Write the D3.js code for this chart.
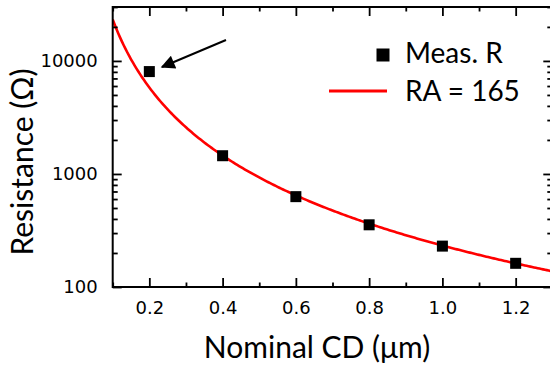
<!DOCTYPE html>
<html>
<head>
<meta charset="utf-8">
<script src="https://cdn.jsdelivr.net/npm/d3@7"></script>
<style>
  html, body { margin: 0; padding: 0; background: #fff; }
  svg { display: block; }
</style>
</head>
<body>
<svg id="chart" width="550" height="366"></svg>
<script>
// Measured junction resistance vs. nominal critical dimension
const cdNominal = [0.2, 0.4, 0.6, 0.8, 1.0, 1.2];          // µm
const measuredR = [8050, 1450, 630, 355, 230, 162];        // Ω
const xTickValues = [0.2, 0.4, 0.6, 0.8, 1.0, 1.2];
const yTickValues = [100, 1000, 10000];
const raValue = 165;                                        // Ω·µm²
const cdBias = 0.95;                                        // effective / nominal CD

const svg = d3.select("#chart");
const plotL = 112.7, plotR = 552.3, plotT = 7, plotB = 287;

const x = d3.scaleLinear().domain([0.1, 1.3]).range([plotL, plotR]);
const y = d3.scaleLog().domain([100, 30000]).range([plotB, plotT]);

const titleFont = "Lato, 'Open Sans', sans-serif";
const tickFont = "'DejaVu Sans', sans-serif";

const defs = svg.append("defs");

// Clip region for the fit curve
defs.append("clipPath").attr("id", "plotClip")
  .append("rect").attr("x", plotL).attr("y", plotT)
  .attr("width", plotR - plotL).attr("height", plotB - plotT);

// Fit curve: R = RA / area, area of a circular pillar with effective CD
const fitCD = d3.range(0.1, 1.3001, 0.005);
const fitR = cd => raValue / (Math.PI / 4 * Math.pow(cd * cdBias, 2));
svg.append("path")
  .datum(fitCD)
  .attr("clip-path", "url(#plotClip)")
  .attr("fill", "none")
  .attr("stroke", "#ff0000")
  .attr("stroke-width", 2.6)
  .attr("d", d3.line().x(d => x(d)).y(d => y(fitR(d))));

// Minor tick positions
const xMinor = d3.range(0.1, 1.31, 0.1).filter(v => !xTickValues.some(t => Math.abs(t - v) < 1e-6));
const yMinor = [];
[100, 1000, 10000].forEach(dec => { for (let k = 2; k <= 9; k++) if (dec * k <= 30000) yMinor.push(dec * k); });

// Axes with inward ticks on all four sides
const axisStyle = g => {
  g.select(".domain").remove();
  g.selectAll("line").attr("stroke", "#000").attr("stroke-width", 1.8);
};

// Bottom
svg.append("g").attr("transform", `translate(0,${plotB})`)
  .call(d3.axisBottom(x).tickValues(xTickValues).tickSize(-9).tickPadding(14)
    .tickFormat(d3.format(".1f")))
  .call(axisStyle)
  .call(g => g.selectAll("text").attr("font-family", tickFont).attr("font-size", 18).attr("fill", "#000"));
svg.append("g").attr("transform", `translate(0,${plotB})`)
  .call(d3.axisBottom(x).tickValues(xMinor).tickSize(-4.5).tickFormat(""))
  .call(axisStyle);
// Top
svg.append("g").attr("transform", `translate(0,${plotT})`)
  .call(d3.axisTop(x).tickValues(xTickValues).tickSize(-9).tickFormat(""))
  .call(axisStyle);
svg.append("g").attr("transform", `translate(0,${plotT})`)
  .call(d3.axisTop(x).tickValues(xMinor).tickSize(-4.5).tickFormat(""))
  .call(axisStyle);
// Left
svg.append("g").attr("transform", `translate(${plotL},0)`)
  .call(d3.axisLeft(y).tickValues(yTickValues).tickSize(-9).tickPadding(15)
    .tickFormat(d3.format("d")))
  .call(axisStyle)
  .call(g => g.selectAll("text").attr("font-family", tickFont).attr("font-size", 18).attr("fill", "#000"));
svg.append("g").attr("transform", `translate(${plotL},0)`)
  .call(d3.axisLeft(y).tickValues(yMinor).tickSize(-5).tickFormat(""))
  .call(axisStyle);
// Right
svg.append("g").attr("transform", `translate(${plotR},0)`)
  .call(d3.axisRight(y).tickValues(yTickValues).tickSize(-9).tickFormat(""))
  .call(axisStyle);
svg.append("g").attr("transform", `translate(${plotR},0)`)
  .call(d3.axisRight(y).tickValues(yMinor).tickSize(-5).tickFormat(""))
  .call(axisStyle);

// Frame
svg.append("rect")
  .attr("x", plotL).attr("y", plotT)
  .attr("width", plotR - plotL).attr("height", plotB - plotT)
  .attr("fill", "none").attr("stroke", "#000").attr("stroke-width", 2);

// Measured points
const sq = 11;
svg.append("g").selectAll("rect")
  .data(cdNominal.map((c, i) => ({ c, r: measuredR[i] })))
  .join("rect")
  .attr("x", d => x(d.c) - sq / 2)
  .attr("y", d => y(d.r) - sq / 2)
  .attr("width", sq).attr("height", sq)
  .attr("fill", "#000");

// Arrow pointing at the smallest device
defs.append("marker")
  .attr("id", "arrowHead")
  .attr("viewBox", "0 0 10 10").attr("refX", 9).attr("refY", 5)
  .attr("markerWidth", 8).attr("markerHeight", 7)
  .attr("markerUnits", "strokeWidth")
  .attr("orient", "auto")
  .append("path").attr("d", "M0,0 L10,5 L0,10 z").attr("fill", "#000");
svg.append("line")
  .attr("x1", 226).attr("y1", 40).attr("x2", 162).attr("y2", 67)
  .attr("stroke", "#000").attr("stroke-width", 2)
  .attr("marker-end", "url(#arrowHead)");

// Legend
const legend = svg.append("g");
legend.append("rect").attr("x", 376.5).attr("y", 48.5).attr("width", 13).attr("height", 13).attr("fill", "#000");
legend.append("text").attr("x", 405).attr("y", 62.5).text("Meas. R")
  .attr("font-family", titleFont).attr("font-size", 28).attr("fill", "#000");
legend.append("line").attr("x1", 329).attr("x2", 387).attr("y1", 91).attr("y2", 91)
  .attr("stroke", "#ff0000").attr("stroke-width", 3);
legend.append("text").attr("x", 405).attr("y", 101).text("RA = 165")
  .attr("font-family", titleFont).attr("font-size", 28).attr("fill", "#000");

// Axis titles
svg.append("text")
  .attr("x", 317).attr("y", 358)
  .attr("text-anchor", "middle")
  .attr("font-family", titleFont).attr("font-size", 30).attr("fill", "#000")
  .text("Nominal CD (μm)");
svg.append("text")
  .attr("transform", "translate(33,162) rotate(-90)")
  .attr("text-anchor", "middle")
  .attr("font-family", titleFont).attr("font-size", 30).attr("fill", "#000")
  .text("Resistance (Ω)");
</script>
</body>
</html>
